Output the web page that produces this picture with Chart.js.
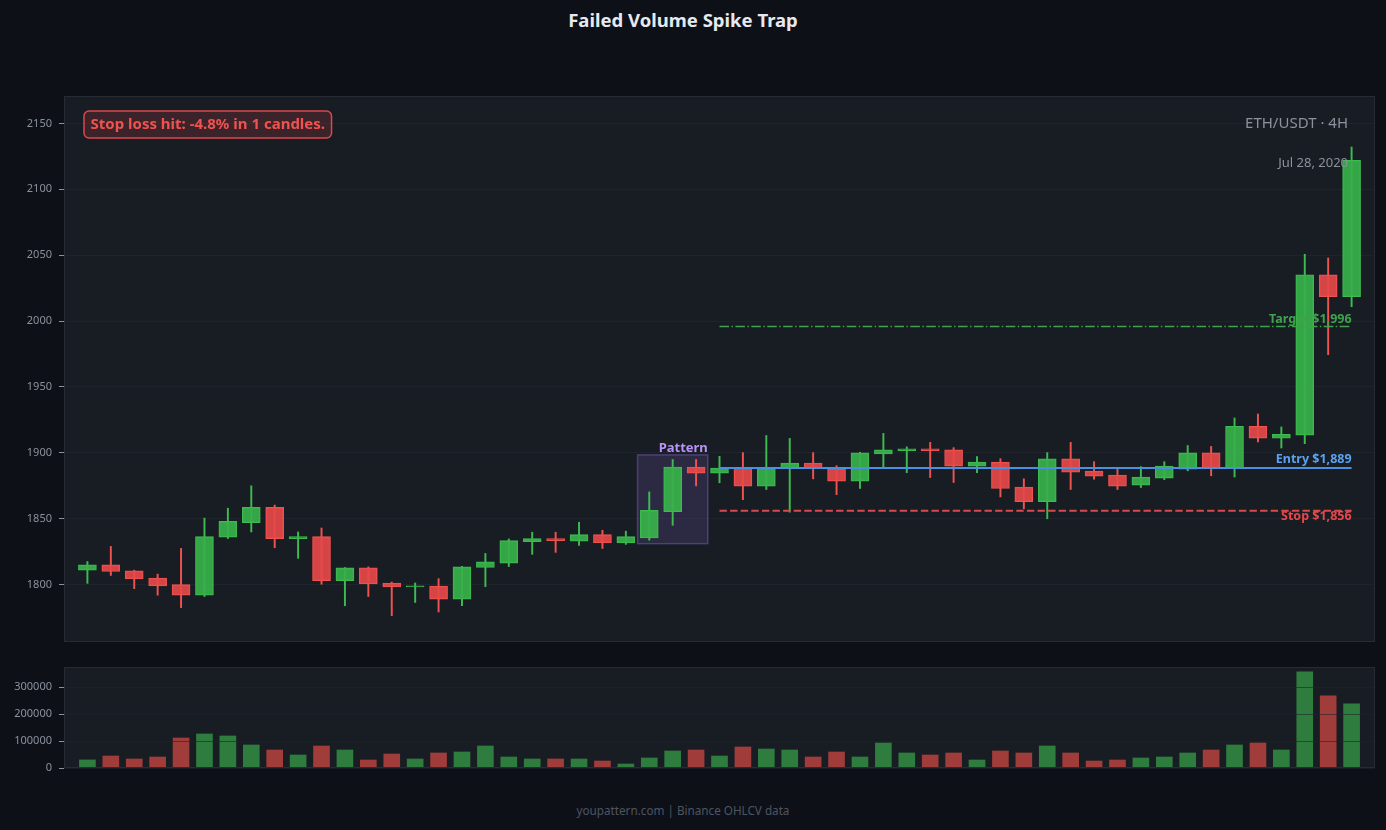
<!DOCTYPE html>
<html><head><meta charset="utf-8">
<script src="https://cdn.jsdelivr.net/npm/chart.js@4.4.1/dist/chart.umd.min.js"></script>
<style>
html,body{margin:0;padding:0;background:#0d1017;width:1386px;height:830px;overflow:hidden;font-family:"Noto Sans",sans-serif;}
#title{position:absolute;left:0;top:8px;width:1366px;text-align:center;color:#e6e9ef;font-weight:bold;font-size:18.5px;line-height:24px;}
#footer{position:absolute;left:0;top:802px;width:1366px;text-align:center;color:#4f5560;font-size:11.7px;line-height:16px;}
canvas{position:absolute;left:0;}
#price{top:76px;}
#vol{top:647px;}
</style></head>
<body>
<div id="title">Failed Volume Spike Trap</div>
<canvas id="price" width="1386" height="586"></canvas>
<canvas id="vol" width="1386" height="141"></canvas>
<div id="footer">youpattern.com | Binance OHLCV data</div>
<script>
// ---- data ----
const opens  = [1811,1815,1810.5,1805,1800,1792,1836,1847,1858.7,1835,1836.5,1803,1812.7,1801.3,1798.3,1799,1789,1813,1816.3,1832.7,1835,1833,1838,1831.6,1835.4,1855.3,1889.3,1884.7,1888.5,1874.7,1888,1892.3,1888,1878.6,1899.2,1901.6,1903.1,1902.3,1890,1893,1874,1863,1895.4,1886.2,1883.2,1875.5,1880.8,1887.7,1900,1888.3,1920.2,1911.1,1913.4,2035.2,2018.5];
const highs  = [1817.6,1829,1811,1808,1827.5,1850.5,1858,1875,1860.4,1840,1843,1813,1813.5,1802,1801.3,1804.6,1814,1823.7,1834.7,1839.8,1839.8,1847.4,1841.3,1840.6,1870.4,1895,1895,1897.4,1900.2,1913.2,1911,1900.2,1890.3,1900.5,1914.8,1904.6,1908,1904,1897.2,1895.6,1880.3,1900.2,1908,1893.3,1887.7,1889.6,1893.3,1905.6,1904.9,1926.5,1929.5,1919.7,2050.7,2047.9,2132.1];
const lows   = [1801,1807,1797,1792,1782.6,1791,1835,1840,1828,1820,1800.3,1784,1791,1776.5,1786.5,1779.3,1784,1798.5,1813.8,1823,1824.5,1829.8,1827.5,1830.6,1833.7,1845,1875,1877.3,1864.5,1872.2,1855,1880.3,1868.3,1873,1888.5,1885,1881.3,1877.5,1885,1866.6,1857.6,1850,1872.2,1880,1872.2,1873.7,1879.7,1886.4,1882.6,1881.7,1908.3,1903.7,1907,1974.5,2010.9];
const closes = [1815,1810,1804.3,1799,1792,1836.5,1848,1858.7,1835,1836.5,1803,1812.7,1800.5,1798.2,1799.2,1789,1813.5,1817.3,1833.4,1835,1833.4,1838,1831.6,1836.5,1856.4,1889.3,1884.7,1888.5,1874.7,1888.5,1892.3,1888,1878.6,1900,1902.3,1903.1,1901.6,1890,1893,1873,1863,1895.4,1885.4,1882.4,1874.7,1881.6,1890,1900,1888.5,1920.2,1911.1,1914.1,2035.2,2018.5,2122];
const volumes = [30000,44600,33500,40900,111500,126400,119000,85500,66900,48300,81800,66900,29700,52000,33500,55800,59500,81800,40900,33500,33500,33500,26000,14900,37200,63200,66900,44600,78000,70600,66900,40900,59500,40900,92900,55800,48300,55800,29700,63200,55800,81800,55800,26000,29700,37200,40900,55800,66900,85500,92900,66900,356800,267600,237900];
const priceTicks = [1800,1850,1900,1950,2000,2050,2100,2150];
const volumeTicks = [0,100000,200000,300000];
const entryPrice = 1888.6;
const stopPrice = 1856.1;
const targetPrice = 1995.9;
const tradeStartIndex = 27;
const tradeEndIndex = 54;
const patternStartIndex = 24;
const patternEndIndex = 26;
const patternTop = 1898.5;
const patternBottom = 1831.1;
const symbolLabel = 'ETH/USDT \u00b7 4H';
const dateLabel = 'Jul 28, 2020';
const resultLabel = 'Stop loss hit: -4.8% in 1 candles.';

// ---- styling ----
const FONT = '"Noto Sans", sans-serif';
const GREEN_FILL = 'rgba(56,176,74,0.93)', GREEN_EDGE = '#3dba50';
const RED_FILL = 'rgba(229,72,72,0.93)', RED_EDGE = '#ef5350';
const VOL_GREEN = '#2e7d3e', VOL_RED = '#a03c3a';
const GRID = '#1f232b', TICK = '#8b929c';

const idx = opens.map((_, i) => i);
const up = idx.map(i => closes[i] >= opens[i]);
const fmt = v => Math.round(v).toLocaleString('en-US');

const panelPlugin = {
  id: 'panel',
  beforeDraw(chart) {
    const {ctx, chartArea: a} = chart;
    ctx.save();
    ctx.fillStyle = '#181c23';
    ctx.fillRect(a.left, a.top, a.right - a.left, a.bottom - a.top);
    ctx.restore();
  },
  afterDraw(chart) {
    const {ctx, chartArea: a} = chart;
    ctx.save();
    ctx.strokeStyle = '#272b34';
    ctx.lineWidth = 1;
    ctx.strokeRect(a.left + 0.5, a.top + 0.5, a.right - a.left - 1, a.bottom - a.top - 1);
    ctx.restore();
  }
};

const annotPlugin = {
  id: 'annot',
  beforeDatasetsDraw(chart) {
    const {ctx} = chart;
    const xs = chart.scales.x, ys = chart.scales.y;
    const x0 = xs.getPixelForValue(patternStartIndex - 0.5), x1 = xs.getPixelForValue(patternEndIndex + 0.5);
    const y0 = ys.getPixelForValue(patternTop), y1 = ys.getPixelForValue(patternBottom);
    ctx.save();
    ctx.fillStyle = 'rgba(150,120,230,0.16)';
    ctx.fillRect(x0, y0, x1 - x0, y1 - y0);
    ctx.strokeStyle = 'rgba(150,120,230,0.36)';
    ctx.lineWidth = 1.5;
    ctx.strokeRect(x0, y0, x1 - x0, y1 - y0);
    ctx.restore();
  },
  afterDatasetsDraw(chart) {
    const {ctx, chartArea: a} = chart;
    const xs = chart.scales.x, ys = chart.scales.y;
    ctx.save();
    ctx.font = 'bold 13px ' + FONT;
    ctx.fillStyle = '#b794f6';
    ctx.textAlign = 'right';
    ctx.textBaseline = 'middle';
    ctx.fillText('Pattern', xs.getPixelForValue(patternEndIndex + 0.5), ys.getPixelForValue(patternTop) - 7);
    const xr = xs.getPixelForValue(tradeEndIndex);
    ctx.font = 'bold 12.5px ' + FONT;
    ctx.fillStyle = '#5aa2f0';
    ctx.fillText('Entry $' + fmt(entryPrice), xr, ys.getPixelForValue(entryPrice) - 8);
    ctx.fillStyle = '#e5484d';
    ctx.fillText('Stop $' + fmt(stopPrice), xr, ys.getPixelForValue(stopPrice) + 6);
    ctx.fillStyle = '#3fa34d';
    ctx.fillText('Target $' + fmt(targetPrice), xr, ys.getPixelForValue(targetPrice) - 7);
    ctx.font = '15px ' + FONT;
    ctx.fillStyle = TICK;
    ctx.fillText(symbolLabel, a.right - 27, a.top + 28);
    ctx.font = '13px ' + FONT;
    ctx.fillText(dateLabel, a.right - 27, a.top + 67);
    ctx.font = 'bold 15px ' + FONT;
    const tw = ctx.measureText(resultLabel).width;
    const bx = a.left + 20, by = a.top + 15, bw = tw + 13, bh = 27;
    ctx.beginPath();
    ctx.roundRect(bx, by, bw, bh, 5);
    ctx.fillStyle = 'rgba(229,72,77,0.18)';
    ctx.fill();
    ctx.strokeStyle = '#d9484c';
    ctx.lineWidth = 1.5;
    ctx.stroke();
    ctx.fillStyle = '#f0524f';
    ctx.textAlign = 'left';
    ctx.fillText(resultLabel, bx + 6.5, by + bh / 2 + 0.5);
    ctx.restore();
  }
};

function xScale() { return {type: 'linear', min: -1, max: 55, offset: false, display: false, grid: {offset: false}}; }

function yAxis(extra, allowed) {
  return Object.assign({
    afterFit: s => { s.width = 64; },
    afterBuildTicks: s => { s.ticks = allowed.map(v => ({value: v})); },
    ticks: {color: TICK, font: {family: FONT, size: 11}, padding: 7, callback: v => String(v)},
    grid: {color: GRID, tickColor: TICK, tickLength: 5, lineWidth: 1},
    border: {display: false}
  }, extra);
}

new Chart(document.getElementById('price'), {
  type: 'bar',
  data: {
    datasets: [
      {type: 'line', label: 'Entry', data: [{x: tradeStartIndex, y: entryPrice}, {x: tradeEndIndex, y: entryPrice}],
       borderColor: '#4a90e2', borderWidth: 2, pointRadius: 0, order: 0},
      {type: 'line', label: 'Stop', data: [{x: tradeStartIndex, y: stopPrice}, {x: tradeEndIndex, y: stopPrice}],
       borderColor: '#d9484c', borderWidth: 1.8, borderDash: [7.4, 3.2], pointRadius: 0, order: 0},
      {type: 'line', label: 'Target', data: [{x: tradeStartIndex, y: targetPrice}, {x: tradeEndIndex, y: targetPrice}],
       borderColor: '#3fa34d', borderWidth: 1.5, borderDash: [9.6, 2.4, 1.5, 2.4], pointRadius: 0, order: 0},
      {label: 'Body', data: idx.map(i => ({x: i, y: [opens[i], closes[i]]})),
       backgroundColor: up.map(u => u ? GREEN_FILL : RED_FILL), borderColor: up.map(u => u ? GREEN_EDGE : RED_EDGE),
       borderWidth: 1, borderSkipped: false, barThickness: 18, grouped: false, order: 1},
      {label: 'Wick', data: idx.map(i => ({x: i, y: [lows[i], highs[i]]})),
       backgroundColor: up.map(u => u ? GREEN_EDGE : RED_EDGE), borderWidth: 0,
       barThickness: 1.3, grouped: false, order: 2}
    ]
  },
  options: {
    responsive: false, animation: false, devicePixelRatio: 1,
    layout: {padding: {left: 0, right: 11, top: 20, bottom: 20}},
    plugins: {legend: {display: false}, tooltip: {enabled: false}, title: {display: false}},
    scales: {
      x: xScale(),
      y: yAxis({min: 1756.5, max: 2170.8}, priceTicks)
    }
  },
  plugins: [panelPlugin, annotPlugin]
});

new Chart(document.getElementById('vol'), {
  type: 'bar',
  data: {
    datasets: [
      {label: 'Volume', data: idx.map(i => ({x: i, y: volumes[i]})),
       backgroundColor: up.map(u => u ? VOL_GREEN : VOL_RED), borderWidth: 0, barThickness: 16}
    ]
  },
  options: {
    responsive: false, animation: false, devicePixelRatio: 1,
    layout: {padding: {left: 0, right: 11, top: 20, bottom: 20}},
    plugins: {legend: {display: false}, tooltip: {enabled: false}},
    scales: {
      x: xScale(),
      y: yAxis({min: 0, max: 375000, grid: {color: 'rgba(31,35,43,0.6)', tickColor: TICK, tickLength: 5, lineWidth: 1, z: 1}}, volumeTicks)
    }
  },
  plugins: [panelPlugin]
});
</script>
</body></html>
